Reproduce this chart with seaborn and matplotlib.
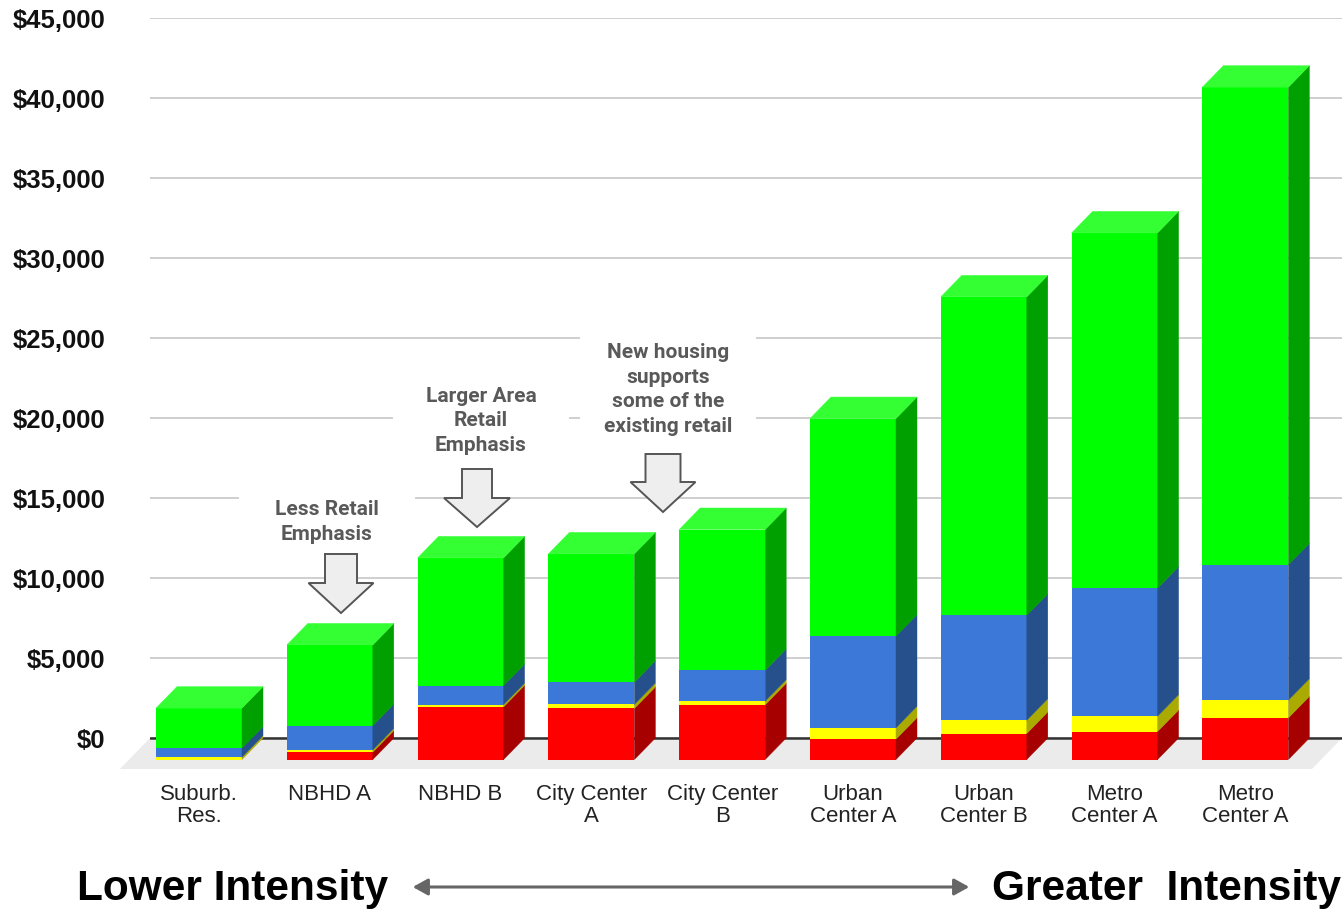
import numpy as np
import pandas as pd
import matplotlib
matplotlib.use("Agg")
import matplotlib.pyplot as plt
from matplotlib.patches import Polygon, Rectangle, FancyArrowPatch
import seaborn as sns

# ---- data -------------------------------------------------------------
categories = ["Suburb.\nRes.", "NBHD A", "NBHD B", "City Center\nA", "City Center\nB",
              "Urban\nCenter A", "Urban\nCenter B", "Metro\nCenter A", "Metro\nCenter A"]
red = [0, 460, 3290, 3190, 3420, 1270, 1625, 1750, 2600]
yellow = [150, 140, 140, 250, 225, 710, 830, 960, 1110]
blue = [560, 1520, 1190, 1390, 1920, 5730, 6560, 8000, 8460]
green = [2500, 5040, 7980, 8020, 8810, 13600, 19900, 22200, 29850]
layers = ["Red", "Yellow", "Blue", "Green"]          # bottom to top
y_ticks = list(range(0, 45001, 5000))

# ---- styling ------------------------------------------------------------
front_col = {"Red": "#ff0000", "Yellow": "#ffff00", "Blue": "#3c78d8", "Green": "#00ff00"}
side_col = {"Red": "#a60000", "Yellow": "#aaaa00", "Blue": "#26508c", "Green": "#00a000"}
top_col = "#33ff33"

W, H = 1342, 911
sns.set_style("white")
plt.rcParams["font.family"] = ["Liberation Sans", "DejaVu Sans"]

fig = plt.figure(figsize=(W / 100, H / 100), dpi=100)
ax = fig.add_axes([150 / W, 1 - 778 / H, (W - 150) / W, (778 - 18) / H])

XMIN, XMAX = -0.5352, 8.578
YMIN, YMAX = -2500, 45000
PX_X = (W - 150) / (XMAX - XMIN)          # pixels per category unit
PX_Y = (778 - 18) / (YMAX - YMIN)         # pixels per dollar
DX = 21 / PX_X                            # depth offset of the 3-D boxes
DY = 21.5 / PX_Y
BAR_W = 86 / PX_X

# ---- front faces: cumulative stacks drawn largest first -------------------
stack = np.cumsum(np.vstack([red, yellow, blue, green]), axis=0)
pos = np.arange(len(categories))
rows = []
for k in range(len(layers) - 1, -1, -1):
    for i in pos:
        rows.append({"pos": i, "layer": layers[k], "top": stack[k, i]})
df = pd.DataFrame(rows)

sns.barplot(data=df, x="pos", y="top", hue="layer", hue_order=layers[::-1],
            palette=front_col, dodge=False, width=BAR_W, saturation=1,
            errorbar=None, legend=False, bottom=-DY, linewidth=0, zorder=2, ax=ax)
for p in list(ax.patches):
    p.set_x(p.get_x() - DX)

# ---- side and top faces ---------------------------------------------------
for i in pos:
    xr = i + BAR_W / 2 - DX
    xl = i - BAR_W / 2 - DX
    lo = 0.0
    for k, name in enumerate(layers):
        hi = stack[k, i]
        if hi > lo:
            f_lo, f_hi = lo - DY, hi - DY
            ax.add_patch(Polygon([(xr, f_lo), (xr + DX, f_lo + DY), (xr + DX, f_hi + DY), (xr, f_hi)],
                                 closed=True, fc=side_col[name], ec=side_col[name], lw=0.3, zorder=2))
        lo = hi
    t = stack[-1, i] - DY
    ax.add_patch(Polygon([(xl, t), (xr, t), (xr + DX, t + DY), (xl + DX, t + DY)],
                         closed=True, fc=top_col, ec=top_col, lw=0.3, zorder=2))

# ---- floor and axes -----------------------------------------------------
ax.set_xlim(XMIN, XMAX)
ax.set_ylim(YMIN, YMAX)
fdx, fdy = 30 / PX_X, 31 / PX_Y
ax.add_patch(Polygon([(XMIN, 0), (XMAX, 0), (XMAX - fdx, -fdy), (XMIN - fdx, -fdy)],
                     closed=True, fc="#ebebeb", ec="none", zorder=0.6, clip_on=False))
ax.axhline(0, color="#333333", lw=1.8, zorder=0.9)

ax.set_axisbelow(True)
ax.yaxis.grid(True, color="#cccccc", lw=1.3)
ax.xaxis.grid(False)
for s in ax.spines.values():
    s.set_visible(False)

ax.set_yticks(y_ticks)
ax.set_yticklabels([f"${v:,.0f}" for v in y_ticks], fontsize=18.5, fontweight="bold", color="#111111")
ax.tick_params(axis="y", length=0, pad=32)
ax.set_xticks(pos - DX)
ax.set_xticklabels(categories, fontsize=16, color="#222222")
ax.tick_params(axis="x", length=0, pad=4.5)
for t in ax.get_xticklabels():
    t.set_linespacing(1.07)
ax.set_xlabel("")
ax.set_ylabel("")


# ---- callouts (pixel layout helpers) ------------------------------------
def fx(x):
    return x / W


def fy(y):
    return 1 - y / H


def callout(text, cx, cy, box_top, box_bot, ax_x, shaft, head, y0, y1, tip):
    fig.add_artist(Rectangle((fx(cx - 88), fy(box_bot)), 176 / W, (box_bot - box_top) / H,
                             transform=fig.transFigure, fc="white", ec="none", zorder=3))
    fig.text(fx(cx), fy(cy), text, ha="center", va="center", fontsize=15,
             fontweight="bold", color="#595959", family=["Roboto", "DejaVu Sans"],
             linespacing=1.38, zorder=4)
    pts = [(ax_x - shaft, y0), (ax_x + shaft, y0), (ax_x + shaft, y1), (ax_x + head, y1),
           (ax_x, tip), (ax_x - head, y1), (ax_x - shaft, y1)]
    fig.add_artist(Polygon([(fx(a), fy(b)) for a, b in pts], closed=True,
                           transform=fig.transFigure, fc="#eeeeee", ec="#555555",
                           lw=1.4, zorder=4))


callout("Less Retail\nEmphasis", 327, 522, 487, 552, 341, 16, 32.5, 554, 583, 613)
callout("Larger Area\nRetail\nEmphasis", 481, 421, 378, 462, 477, 15, 33, 469, 498, 527)
callout("New housing\nsupports\nsome of the\nexisting retail", 668, 389.5, 329, 442, 663, 17.5, 32.5, 454, 482, 512)

# ---- intensity axis -----------------------------------------------------
fig.text(fx(77), fy(889), "Lower Intensity", ha="left", va="center",
         fontsize=30.5, fontweight="bold", color="black")
fig.text(fx(992), fy(889), "Greater  Intensity", ha="left", va="center",
         fontsize=30.5, fontweight="bold", color="black")
fig.add_artist(FancyArrowPatch((fx(410), fy(887)), (fx(972), fy(887)),
                               transform=fig.transFigure,
                               arrowstyle="<|-|>,head_length=9,head_width=5",
                               mutation_scale=1, color="#666666", lw=2.2))

fig.savefig("out.png", dpi=100, facecolor="white")
